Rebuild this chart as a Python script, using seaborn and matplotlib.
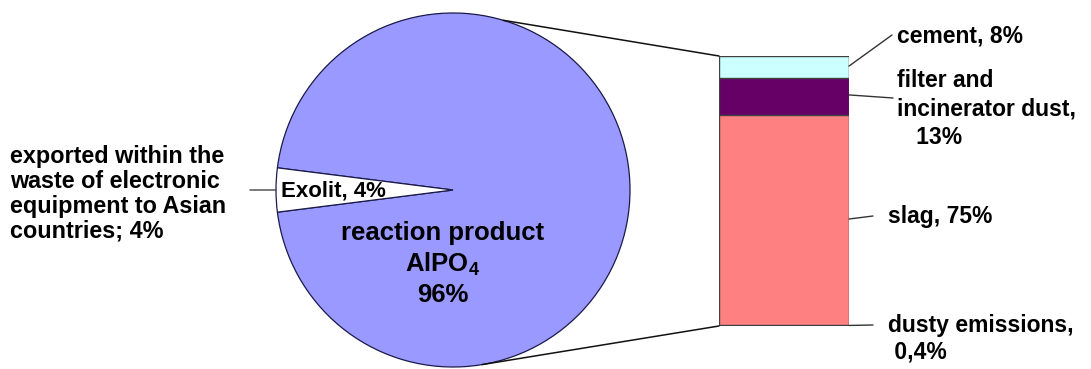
import matplotlib
matplotlib.use("Agg")
import matplotlib.pyplot as plt
from matplotlib.patches import ConnectionPatch
import numpy as np
import seaborn as sns

# Pie: overall fate of the flame retardant
pie_labels = ["reaction product\nAlPO$_4$\n96%", "Exolit, 4%"]
pie_values = [96, 4]
pie_colors = ["#9999FF", "#FFFFFF"]

# Bar: breakdown of the reaction product (bottom to top)
bar_labels = ["dusty emissions,\n 0,4%", "slag, 75%",
              "filter and\nincinerator dust,\n   13%", "cement, 8%"]
bar_values = [0.4, 75, 13, 8]
bar_colors = ["#24448C", "#FF8080", "#660066", "#CCFFFF"]

side_label = "exported within the\nwaste of electronic\nequipment to Asian\ncountries; 4%"

sns.set_theme(style="white")
plt.rcParams["font.family"] = ["Liberation Sans", "DejaVu Sans"]
plt.rcParams["font.weight"] = "bold"
plt.rcParams["mathtext.fontset"] = "custom"
plt.rcParams["mathtext.rm"] = "Liberation Sans:bold"
plt.rcParams["mathtext.default"] = "rm"

W, H = 1091, 369
fig = plt.figure(figsize=(W / 100, H / 100), dpi=100)
fig.patch.set_facecolor("white")


def box(x0, y0, x1, y1):
    """Axes rectangle from pixel corners (top-left origin)."""
    return [x0 / W, 1 - y1 / H, (x1 - x0) / W, (y1 - y0) / H]


def px(x, y):
    """Figure-fraction point from a pixel position (top-left origin)."""
    return (x / W, 1 - y / H)


# ---- pie ----
R = 177
cx, cy = 453, 190
ax_pie = fig.add_axes(box(cx - R, cy - R, cx + R, cy + R))
ax_pie.pie(pie_values, colors=pie_colors,
           startangle=180 + 3.6 * pie_values[1] / 2, radius=1.0,
           wedgeprops=dict(edgecolor="#1A1A4A", linewidth=0.9))
ax_pie.set_xlim(-1, 1)
ax_pie.set_ylim(-1, 1)
ax_pie.set_aspect("equal")
ax_pie.axis("off")

fig.text(*px(443, 264), pie_labels[0], ha="center", va="center",
         fontsize=18.5, fontweight="bold", linespacing=1.27, color="black")
fig.text(*px(281, 191), pie_labels[1], ha="left", va="center",
         fontsize=16, fontweight="bold", color="black")

# side label with its leader to the wedge
fig.text(*px(10, 194), side_label, ha="left", va="center",
         fontsize=16.8, fontweight="bold", linespacing=1.1, color="black")
fig.add_artist(ConnectionPatch(xyA=px(250, 190), coordsA=fig.transFigure,
                               xyB=(-1.0, 0.0), coordsB=ax_pie.transData,
                               color="#444444", lw=1.0))

# ---- stacked bar ----
ax_bar = fig.add_axes(box(719, 56, 849, 326))
cum = np.cumsum(bar_values)
total = cum[-1]
# draw cumulative heights from the tallest down so each segment shows its own colour
for i in range(len(bar_values) - 1, -1, -1):
    sns.barplot(x=[0], y=[cum[i]], color=bar_colors[i], saturation=1,
                width=0.8, edgecolor="#404040", linewidth=1.0, ax=ax_bar)
ax_bar.set_xlim(-0.4, 0.4)
ax_bar.set_ylim(0, total)
ax_bar.axis("off")

bottoms = cum - np.array(bar_values)
mids = bottoms + np.array(bar_values) / 2

# (start on bar edge in data units, leader end in px, text anchor in px, spacing)
label_specs = [
    (bottoms[0] + 0.2, (873, 325), (888, 339), 1.2),    # dusty emissions
    (mids[1] + 0.3, (873, 216), (888, 217), 1.2),       # slag
    (mids[2] + 0.6, (893, 98), (897, 109), 1.3),        # filter and incinerator dust
    (mids[3] + 0.4, (892, 35), (897, 36), 1.2),         # cement
]
for lab, (y0, end, anchor, ls) in zip(bar_labels, label_specs):
    fig.add_artist(ConnectionPatch(xyA=(0.4, y0), coordsA=ax_bar.transData,
                                   xyB=px(*end), coordsB=fig.transFigure,
                                   color="#333333", lw=1.0))
    fig.text(*px(*anchor), lab, ha="left", va="center",
             fontsize=16.5, fontweight="bold", linespacing=ls, color="black")

# ---- connector lines from the pie to the bar ----
for ang, yb in [(73.5, total), (-80.5, 0.0)]:
    a = np.deg2rad(ang)
    fig.add_artist(ConnectionPatch(xyA=(np.cos(a), np.sin(a)), coordsA=ax_pie.transData,
                                   xyB=(-0.4, yb), coordsB=ax_bar.transData,
                                   color="#111111", lw=1.1))

fig.savefig("out.png", dpi=100, facecolor="white")
